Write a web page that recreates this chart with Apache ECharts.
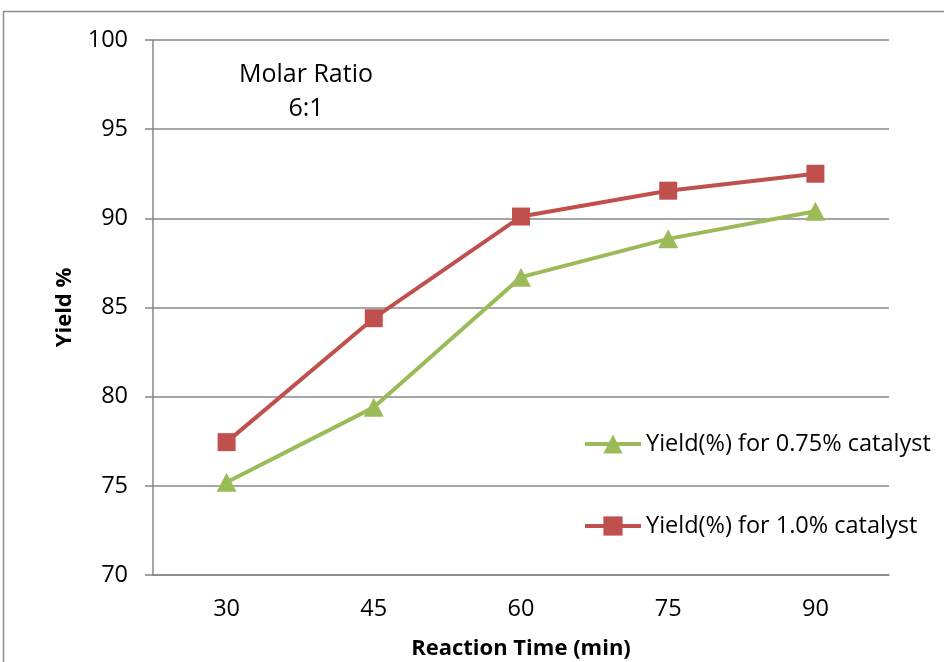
<!DOCTYPE html>
<html>
<head>
<meta charset="utf-8">
<script src="https://cdn.jsdelivr.net/npm/echarts@6/dist/echarts.min.js"></script>
<style>
  html, body { margin: 0; padding: 0; background: #fff; }
  #chart { width: 944px; height: 662px; }
</style>
</head>
<body>
<div id="chart"></div>
<script>
// Reaction time categories (min)
const reactionTimes = ['30', '45', '60', '75', '90'];
// Yield (%) measured for each catalyst loading
const yield075 = [75.2, 79.4, 86.7, 88.85, 90.4];
const yield100 = [77.45, 84.4, 90.1, 91.55, 92.5];
const seriesNames = ['Yield(%) for 0.75% catalyst', 'Yield(%) for 1.0% catalyst'];

const FONT = '"Open Sans", "Noto Sans", sans-serif';
const GRID_COLOR = '#878787';
const GREEN = '#9BBB59';
const RED = '#C0504D';

const chart = echarts.init(document.getElementById('chart'), null, { renderer: 'canvas' });

chart.setOption({
  backgroundColor: '#ffffff',
  animation: false,
  grid: {
    left: 153, right: 55, top: 40, bottom: 87,
    containLabel: false,
    outerBoundsMode: 'none'
  },
  graphic: [
    {
      type: 'rect',
      shape: { x: 3.5, y: 11.5, width: 1000, height: 700 },
      style: { fill: 'none', stroke: '#8a8a8a', lineWidth: 1.5 },
      silent: true
    },
    {
      type: 'text',
      style: {
        x: 306, y: 75, text: 'Molar Ratio', textAlign: 'center', textVerticalAlign: 'middle',
        font: '25px ' + FONT, fill: '#000'
      }
    },
    {
      type: 'text',
      style: {
        x: 306, y: 109, text: '6:1', textAlign: 'center', textVerticalAlign: 'middle',
        font: '25px ' + FONT, fill: '#000'
      }
    }
  ],
  legend: {
    orient: 'vertical',
    left: 583,
    top: 432,
    padding: 0,
    itemGap: 58,
    itemWidth: 56,
    itemHeight: 24,
    lineStyle: { width: 4 },
    textStyle: { fontFamily: FONT, fontSize: 23.5, color: '#000' },
    data: seriesNames
  },
  xAxis: {
    type: 'category',
    data: reactionTimes,
    boundaryGap: true,
    name: 'Reaction Time (min)',
    nameLocation: 'middle',
    nameGap: 63,
    nameTextStyle: { fontFamily: FONT, fontSize: 22, fontWeight: 'bold', color: '#000' },
    axisLine: { show: true, lineStyle: { color: GRID_COLOR, width: 1.5 } },
    axisTick: { show: false },
    axisLabel: { margin: 22, fontFamily: FONT, fontSize: 23.5, color: '#000' },
    splitLine: { show: false }
  },
  yAxis: {
    type: 'value',
    min: 70,
    max: 100,
    interval: 5,
    name: 'Yield %',
    nameLocation: 'middle',
    nameGap: 77,
    nameRotate: 90,
    nameTextStyle: { fontFamily: FONT, fontSize: 22, fontWeight: 'bold', color: '#000' },
    axisLine: { show: true, lineStyle: { color: GRID_COLOR, width: 1.5 } },
    axisTick: { show: true, length: 8, lineStyle: { color: GRID_COLOR, width: 1.5 } },
    axisLabel: { margin: 25, fontFamily: FONT, fontSize: 23.5, color: '#000' },
    splitLine: { show: true, lineStyle: { color: GRID_COLOR, width: 1.5 } }
  },
  series: [
    {
      name: seriesNames[0],
      type: 'line',
      data: yield075,
      symbol: 'triangle',
      symbolSize: [20, 19],
      lineStyle: { color: GREEN, width: 4 },
      itemStyle: { color: GREEN }
    },
    {
      name: seriesNames[1],
      type: 'line',
      data: yield100,
      symbol: 'rect',
      symbolSize: 18,
      lineStyle: { color: RED, width: 4 },
      itemStyle: { color: RED }
    }
  ]
});
</script>
</body>
</html>
